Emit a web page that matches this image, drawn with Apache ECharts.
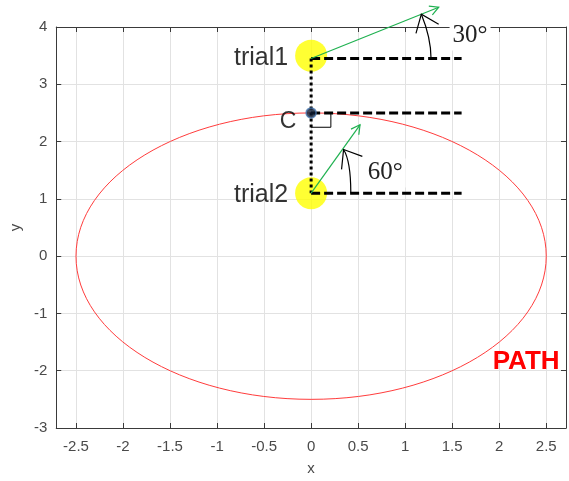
<!DOCTYPE html>
<html><head><meta charset="utf-8">
<script src="https://cdn.jsdelivr.net/npm/echarts@6/dist/echarts.min.js"></script>
<style>html,body{margin:0;padding:0;background:#fff}#c{width:569px;height:481px}</style>
</head><body><div id="c"></div>
<script>
// ---- data ----
const xTicks = [-2.5, -2, -1.5, -1, -0.5, 0, 0.5, 1, 1.5, 2, 2.5];
const yTicks = [-3, -2, -1, 0, 1, 2, 3, 4];
const pathEllipse = [[0, 0, 2.5, 2.5]];           // cx, cy, rx, ry
const trialNames = ['trial1', 'trial2'];
const trialMarkers = [[0, 3.5], [0, 1.1]];
const trialOrigins = [[0, 3.45], [0, 1.1]];
const pointC = [0, 2.5];
const refLineEndX = 1.6;
const headingTips = [[1.357, 4.345], [0.52, 2.293]];
const angleArcs = [                                // start x,y / control x,y / end x,y
  [1.275, 3.45, 1.275, 3.81, 1.172, 4.224],
  [0.422, 1.1, 0.422, 1.66, 0.345, 1.862]
];
const angleTexts = ['30°', '60°'];
const angleTextPos = [[1.69, 3.845], [0.787, 1.453]];
const rightAngle = [[0, 2.25], [0.21, 2.25], [0.21, 2.5]];
const pathText = 'PATH';
const pathTextPos = [1.93, -1.84];

// ---- helpers ----
function arrowHead(tip, from, len, half) {
  const a = Math.atan2(from[1] - tip[1], from[0] - tip[0]);
  return [[tip[0] + len * Math.cos(a + half), tip[1] + len * Math.sin(a + half)], tip,
          [tip[0] + len * Math.cos(a - half), tip[1] + len * Math.sin(a - half)]];
}
const SANS = 'Liberation Sans, Arial, sans-serif';
const AX = '#3a3a3a', TXT = '#4a4a4a';

const hLines = [trialOrigins[0], pointC, trialOrigins[1]];

const series = [];
// path ellipse
series.push({
  type: 'custom', coordinateSystem: 'cartesian2d', z: 1, silent: true,
  data: pathEllipse, encode: { x: 0, y: 1 },
  renderItem: (params, api) => {
    const c = api.coord([api.value(0), api.value(1)]);
    const s = api.size([api.value(2), api.value(3)]);
    return { type: 'ellipse', shape: { cx: c[0], cy: c[1], rx: s[0], ry: s[1] },
             style: { fill: 'none', stroke: '#ff3c3c', lineWidth: 1 } };
  }
});
// yellow trial markers
series.push({
  type: 'scatter', z: 2, silent: true, symbolSize: 32,
  itemStyle: { color: '#ffff00' },
  data: trialMarkers.map((p, i) => ({ name: trialNames[i], value: p })),
  label: { show: true, position: 'left', distance: 7, offset: [0, 2], formatter: '{b}',
           fontSize: 25, color: '#000', fontFamily: SANS }
});
// dashed reference lines
hLines.forEach(p => series.push({
  type: 'line', z: 3, silent: true, symbol: 'none',
  data: [[p[0], p[1]], [refLineEndX, p[1]]],
  lineStyle: { color: '#000', width: 3, type: [9, 4] }
}));
// dotted vertical line
series.push({
  type: 'line', z: 3, silent: true, symbol: 'none',
  data: [trialOrigins[0], trialOrigins[1]],
  lineStyle: { color: '#000', width: 3, type: [3, 3] }
});
// right angle marker
series.push({
  type: 'line', z: 3, silent: true, symbol: 'none', data: rightAngle,
  lineStyle: { color: '#000', width: 1 }
});
// green heading arrows
series.push({
  type: 'custom', coordinateSystem: 'cartesian2d', z: 5, silent: true, clip: false,
  data: trialOrigins.map((o, i) => [o[0], o[1], headingTips[i][0], headingTips[i][1]]),
  encode: { x: [0, 2], y: [1, 3] },
  renderItem: (params, api) => {
    const p1 = api.coord([api.value(0), api.value(1)]);
    const p2 = api.coord([api.value(2), api.value(3)]);
    const st = { stroke: '#1fb150', lineWidth: 1.2, fill: 'none' };
    return { type: 'group', children: [
      { type: 'line', shape: { x1: p1[0], y1: p1[1], x2: p2[0], y2: p2[1] }, style: st },
      { type: 'polyline', shape: { points: arrowHead(p2, p1, 10, 0.5) }, style: st }
    ] };
  }
});
// curved angle arrows
series.push({
  type: 'custom', coordinateSystem: 'cartesian2d', z: 5, silent: true, clip: false,
  data: angleArcs, encode: { x: [0, 2, 4], y: [1, 3, 5] },
  renderItem: (params, api) => {
    const s = api.coord([api.value(0), api.value(1)]);
    const c = api.coord([api.value(2), api.value(3)]);
    const e = api.coord([api.value(4), api.value(5)]);
    const st = { stroke: '#000', lineWidth: 1.2, fill: 'none' };
    return { type: 'group', children: [
      { type: 'bezierCurve', shape: { x1: s[0], y1: s[1], cpx1: c[0], cpy1: c[1], x2: e[0], y2: e[1] }, style: st },
      { type: 'polyline', shape: { points: arrowHead(e, c, 20, 0.66) }, style: st }
    ] };
  }
});
// angle labels
series.push({
  type: 'custom', coordinateSystem: 'cartesian2d', z: 7, silent: true, clip: false,
  data: angleTextPos, encode: { x: 0, y: 1 },
  renderItem: (params, api) => {
    const p = api.coord([api.value(0), api.value(1)]);
    return { type: 'text', x: p[0], y: p[1], style: {
      text: angleTexts[params.dataIndex], fill: '#222', align: 'center', verticalAlign: 'middle',
      font: '25px "Liberation Serif", "DejaVu Serif", serif',
      backgroundColor: '#fff', padding: [3, 3, 1, 3] } };
  }
});
// PATH label
series.push({
  type: 'custom', coordinateSystem: 'cartesian2d', z: 7, silent: true, clip: false,
  data: [pathTextPos], encode: { x: 0, y: 1 },
  renderItem: (params, api) => {
    const p = api.coord([api.value(0), api.value(1)]);
    return { type: 'text', x: p[0], y: p[1], style: {
      text: pathText, fill: '#ff0000', align: 'left', verticalAlign: 'middle',
      font: 'bold 26px "Liberation Sans", Arial, sans-serif' } };
  }
});
// point C
series.push({
  type: 'scatter', z: 6, silent: true, symbolSize: 10,
  itemStyle: { color: '#0d1b33', borderColor: '#4a78b0', borderWidth: 1.5 },
  data: [{ name: 'C', value: pointC }],
  label: { show: true, position: 'left', distance: 9, offset: [0, 9], formatter: '{b}',
           fontSize: 23, color: '#000', fontFamily: SANS }
});

const xMin = -2.71, xMax = 2.71, yMin = -3, yMax = 4;
const tickStyle = { lineStyle: { color: AX } };
const option = {
  animation: false,
  backgroundColor: '#fff',
  grid: { left: 53, right: 3, top: 27, bottom: 49, containLabel: false },
  xAxis: [{
    type: 'value', min: xMin, max: xMax, position: 'bottom',
    name: 'x', nameLocation: 'middle', nameGap: 33,
    nameTextStyle: { fontSize: 15, color: TXT, fontFamily: SANS },
    axisLine: { onZero: false, lineStyle: { color: AX } },
    axisTick: Object.assign({ inside: true, length: 5, customValues: xTicks }, tickStyle),
    axisLabel: { customValues: xTicks, fontSize: 15, color: TXT, margin: 11, fontFamily: SANS,
                 formatter: v => String(v) },
    splitLine: { show: true, lineStyle: { color: '#e2e2e2' } }
  }, {
    type: 'value', min: xMin, max: xMax, position: 'top',
    axisLine: { onZero: false, lineStyle: { color: AX } },
    axisTick: Object.assign({ inside: true, length: 5, customValues: xTicks }, tickStyle),
    axisLabel: { show: false, customValues: xTicks }, splitLine: { show: false }
  }],
  yAxis: [{
    type: 'value', min: yMin, max: yMax, position: 'left',
    name: 'y', nameLocation: 'middle', nameGap: 30,
    nameTextStyle: { fontSize: 15, color: TXT, fontFamily: SANS },
    axisLine: { show: true, onZero: false, lineStyle: { color: AX } },
    axisTick: Object.assign({ show: true, inside: true, length: 5, customValues: yTicks }, tickStyle),
    axisLabel: { customValues: yTicks, fontSize: 15, color: TXT, margin: 9, fontFamily: SANS,
                 formatter: v => String(v) },
    splitLine: { show: true, lineStyle: { color: '#e2e2e2' } }
  }, {
    type: 'value', min: yMin, max: yMax, position: 'right',
    axisLine: { show: true, onZero: false, lineStyle: { color: AX } },
    axisTick: Object.assign({ show: true, inside: true, length: 5, customValues: yTicks }, tickStyle),
    axisLabel: { show: false, customValues: yTicks }, splitLine: { show: false }
  }],
  series: series
};
const chart = echarts.init(document.getElementById('c'), null, { renderer: 'canvas' });
chart.setOption(option);
</script></body></html>
